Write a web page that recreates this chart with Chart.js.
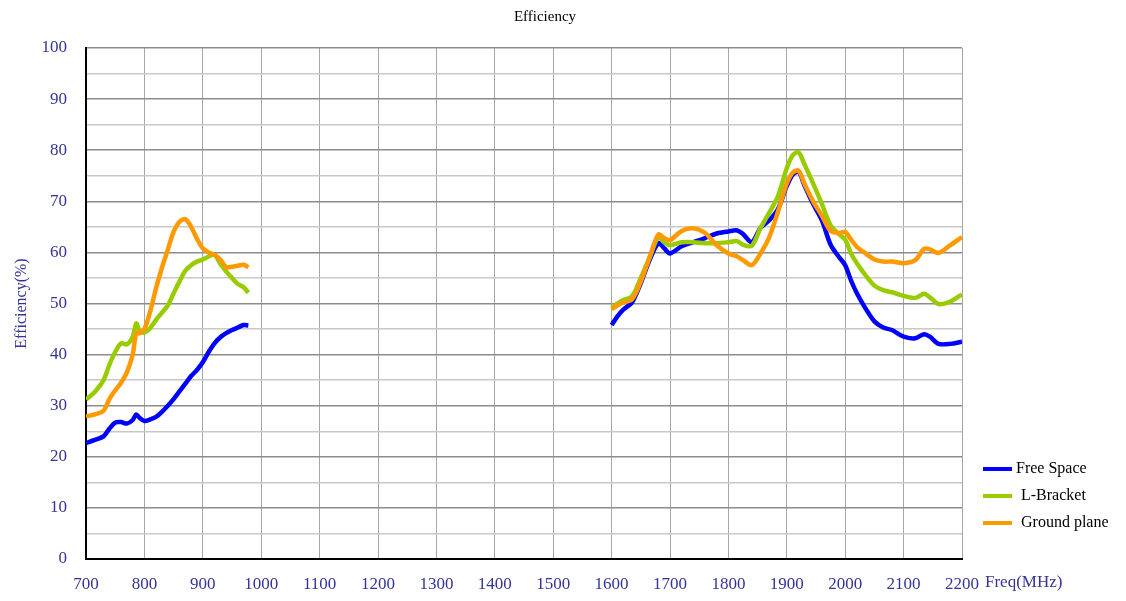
<!DOCTYPE html>
<html>
<head>
<meta charset="utf-8">
<script src="https://cdn.jsdelivr.net/npm/chart.js@4.4.1/dist/chart.umd.min.js"></script>
<style>
  html, body { margin: 0; padding: 0; background: #fff; }
  #wrap { width: 1126px; height: 601px; }
</style>
</head>
<body>
<div id="wrap"><canvas id="effChart" width="1126" height="601"></canvas></div>
<script>
// low band (MHz)
const lowFreq = [700, 715, 730, 740, 750, 760, 770, 780, 786, 792, 800, 810, 820, 830, 840, 850, 860, 870, 880, 890, 900, 910, 920, 930, 940, 950, 960, 970, 978];
const freeSpaceLow = [22.7, 23.3, 24, 25.5, 26.7, 26.8, 26.5, 27.2, 28.3, 27.6, 27.0, 27.3, 27.8, 28.8, 30.0, 31.3, 32.8, 34.3, 35.8, 37.0, 38.5, 40.5, 42.2, 43.4, 44.2, 44.8, 45.3, 45.8, 45.7];
const lBracketLow = [31.2, 32.7, 35, 38, 40.5, 42.2, 42, 43.5, 46.1, 44.6, 44.3, 45.2, 46.8, 48.2, 49.6, 52, 54.3, 56.4, 57.5, 58.2, 58.6, 59.2, 59.5, 57.8, 56.3, 55.0, 53.8, 53.2, 52.1];
const groundLow = [27.9, 28.3, 29, 31.3, 33, 34.5, 36.5, 40, 44.2, 44.2, 45, 48.5, 53, 57, 60.5, 64, 66, 66.5, 65, 62.7, 60.8, 60, 59.5, 58.6, 57.1, 57.2, 57.4, 57.6, 57.1];

// high band (MHz)
const highFreq = [1600, 1610, 1620, 1635, 1650, 1665, 1680, 1690, 1700, 1720, 1740, 1760, 1780, 1800, 1815, 1825, 1840, 1855, 1870, 1885, 1900, 1910, 1920, 1930, 1945, 1960, 1975, 1990, 2000, 2010, 2020, 2035, 2050, 2065, 2080, 2100, 2120, 2135, 2145, 2160, 2180, 2200];
const freeSpaceHigh = [45.8, 47.5, 48.8, 50.2, 54, 58.5, 61.8, 60.8, 59.8, 61.2, 62, 62.8, 63.7, 64.1, 64.3, 63.6, 62.0, 64.8, 66.3, 68.5, 73, 75.2, 75.8, 73.2, 69.5, 66.3, 61.5, 59, 57.5, 54.5, 52, 49, 46.5, 45.3, 44.8, 43.5, 43.2, 44, 43.5, 42.1, 42.1, 42.5];
const lBracketHigh = [49.1, 50, 50.7, 51.4, 55, 59, 63, 62, 61.4, 62, 62, 61.8, 61.8, 62, 62.2, 61.5, 61.3, 64.8, 67.8, 71, 76.5, 79, 79.6, 77.3, 73.5, 69.5, 65.3, 63.5, 62.5, 59.8, 57.9, 55.5, 53.5, 52.6, 52.2, 51.5, 51.1, 51.9, 51.2, 49.9, 50.4, 51.8];
const groundHigh = [48.9, 49.6, 50.2, 50.8, 54.3, 59, 63.5, 62.8, 62.4, 64.2, 64.7, 63.8, 61.4, 59.8, 59.2, 58.5, 57.5, 59.8, 63, 68, 73.5, 75.6, 76, 73.5, 70, 67.2, 64.2, 63.8, 64, 62.5, 61.1, 59.8, 58.6, 58.2, 58.2, 57.9, 58.5, 60.7, 60.6, 59.9, 61.4, 63];

const seriesNames = ["Free Space", "L-Bracket", "Ground plane"];
const seriesColors = ["#0000ff", "#99cc00", "#ff9900"];
const xTicks = [700, 2200, 100];   // min, max, step
const yTicks = [0, 100, 5];

const labelBlue = "#333399";
const serif = "'Liberation Serif', 'DejaVu Serif', serif";

// join both bands with a null point so the gap is not bridged
function toPoints(lowVals, highVals) {
    const pts = lowFreq.map((f, i) => ({ x: f, y: lowVals[i] }));
    pts.push({ x: 1300, y: null });
    highFreq.forEach((f, i) => pts.push({ x: f, y: highVals[i] }));
    return pts;
}

const allData = [
    toPoints(freeSpaceLow, freeSpaceHigh),
    toPoints(lBracketLow, lBracketHigh),
    toPoints(groundLow, groundHigh),
];

// title, legend and x axis title drawn by hand
const sideText = {
    id: "sideText",
    afterDraw(chart) {
        const ctx = chart.ctx;
        ctx.save();
        ctx.textBaseline = "middle";
        ctx.font = "15px " + serif;
        ctx.fillStyle = "#000";
        ctx.textAlign = "center";
        ctx.fillText("Efficiency", 545, 17);

        ctx.font = "16px " + serif;
        ctx.textAlign = "left";
        const rows = [469, 496, 523];
        const textX = [1016, 1021, 1021];
        seriesNames.forEach((name, i) => {
            ctx.strokeStyle = seriesColors[i];
            ctx.lineWidth = 4;
            ctx.beginPath();
            ctx.moveTo(983, rows[i]);
            ctx.lineTo(1012, rows[i]);
            ctx.stroke();
            ctx.fillStyle = "#000";
            ctx.fillText(name, textX[i], rows[i]);
        });
        ctx.font = "17px " + serif;
        ctx.fillStyle = labelBlue;
        ctx.fillText("Freq(MHz)", 985, 583);
        ctx.restore();
    }
};

const ctx = document.getElementById("effChart").getContext("2d");
const effChart = new Chart(ctx, {
    type: "line",
    data: {
        datasets: allData.map((pts, i) => ({
            label: seriesNames[i],
            data: pts,
            borderColor: seriesColors[i],
            backgroundColor: seriesColors[i],
            borderWidth: 4.5,
            pointRadius: 0,
            tension: 0.3,
            spanGaps: false,
            fill: false,
            order: 3 - i,
        })),
    },
    options: {
        responsive: false,
        animation: false,
        layout: { padding: { left: 0, right: 164, top: 48, bottom: 0 } },
        scales: {
            x: {
                type: "linear",
                min: xTicks[0],
                max: xTicks[1],
                afterFit: (s) => { s.height = 42; },
                ticks: {
                    stepSize: xTicks[2],
                    color: labelBlue,
                    font: { family: serif, size: 17 },
                    padding: 15,
                    maxRotation: 0,
                    callback: (v) => String(v),
                },
                grid: { color: "#a6a6a6", lineWidth: 1, drawTicks: false },
                border: { color: "#000", width: 2 },
            },
            y: {
                min: yTicks[0],
                max: yTicks[1],
                afterFit: (s) => { s.width = 86; },
                ticks: {
                    stepSize: yTicks[2],
                    color: labelBlue,
                    font: { family: serif, size: 17 },
                    padding: 19,
                    callback: (v) => (v % 10 === 0 ? String(v) : ""),
                },
                grid: {
                    color: (c) => (c.tick && c.tick.value % 10 === 0 ? "#8c8c8c" : "#c8c8c8"),
                    lineWidth: 1.5,
                    drawTicks: false,
                },
                border: { color: "#000", width: 2 },
                title: {
                    display: true,
                    text: "Efficiency(%)",
                    color: labelBlue,
                    font: { family: serif, size: 16 },
                    padding: { top: 12, bottom: 0 },
                },
            },
        },
        plugins: {
            legend: { display: false },
            tooltip: { enabled: false },
            title: { display: false },
        },
    },
    plugins: [sideText],
});
</script>
</body>
</html>
